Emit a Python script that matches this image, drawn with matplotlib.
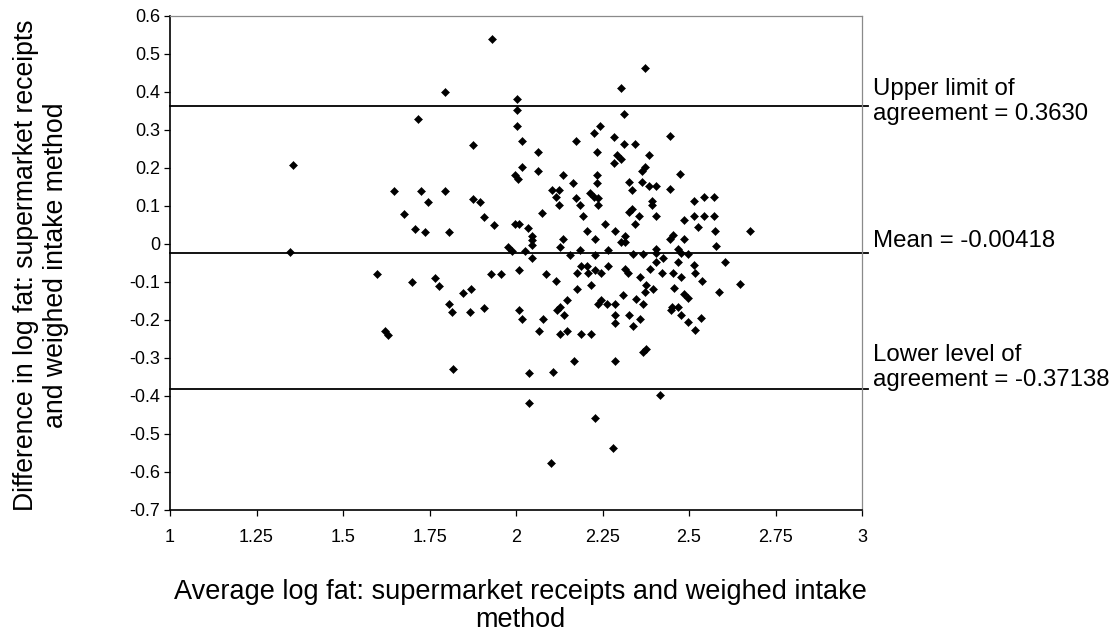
import matplotlib
matplotlib.use("Agg")
import matplotlib.pyplot as plt

plt.rcParams['font.family'] = ['Liberation Sans', 'DejaVu Sans']

# ---- data ----
avg_log_fat = [
    # x < 1.92
    1.795, 1.716, 1.875, 1.356, 1.646, 1.726, 1.795, 1.875, 1.896, 1.747,
    1.676, 1.907, 1.707, 1.737, 1.806, 1.348, 1.598, 1.698, 1.766, 1.777,
    1.847, 1.869, 1.807, 1.908, 1.816, 1.868, 1.621, 1.631, 1.819,
    # central cloud, upper part
    1.932, 2.372, 2.303, 2.004, 2.004, 2.313, 2.004, 2.244, 2.224, 2.016,
    2.174, 2.284, 2.444, 2.313, 2.344, 2.064, 2.234, 2.384, 2.293, 2.303,
    2.284, 2.372, 2.363, 2.016, 2.064, 1.996, 2.005, 2.135, 2.234, 2.473,
    2.166, 2.234, 2.327, 2.364, 2.385, 2.405, 2.336, 2.445, 2.105, 2.123,
    2.115, 2.214, 2.224, 2.174, 2.236, 2.124, 2.185, 2.236, 2.394, 2.394,
    2.515, 2.544, 2.076, 2.327, 2.336, 2.195, 2.355, 2.405, 2.515, 2.544,
    2.486, 1.936, 1.996, 2.008, 2.036, 2.256, 2.345, 2.526, 2.205, 2.286,
    2.576, 2.046, 2.046, 2.046, 2.314, 2.136, 2.227, 2.445, 2.455, 2.486,
    2.304, 2.315, 2.577,
    # central cloud, around and below the mean
    2.126, 1.978, 1.988, 2.026, 2.186, 2.267, 2.406, 2.467, 2.477, 2.157,
    2.227, 2.337, 2.366, 2.406, 2.497, 2.047, 2.425, 2.406, 2.605, 2.467,
    2.267, 2.187, 2.206, 2.515, 2.008, 2.227, 2.314, 2.325, 2.386, 2.516,
    1.928, 1.957, 2.087, 2.177, 2.207, 2.246, 2.421, 2.455, 2.357, 2.476,
    2.117, 2.537, 2.217, 2.376, 2.177, 2.456, 2.586, 2.373, 2.397, 2.308,
    2.486, 2.497, 2.347, 2.147, 2.245, 2.237, 2.264, 2.285, 2.366, 2.127,
    2.008, 2.452, 2.469,
    # lower part
    2.018, 2.118, 2.138, 2.449, 2.477, 2.287, 2.287, 2.327, 2.357, 2.337,
    2.497, 2.535, 2.518, 2.078, 2.067, 2.128, 2.147, 2.188, 2.218, 2.367,
    2.376, 2.168, 2.287, 2.038, 2.108, 2.417, 2.038, 2.229, 2.279, 2.100,
    # right edge
    2.571, 2.571, 2.675, 2.646,
]

diff_log_fat = [
    0.399, 0.329, 0.260, 0.209, 0.140, 0.140, 0.140, 0.119, 0.110, 0.110,
    0.080, 0.071, 0.040, 0.031, 0.031, -0.020, -0.080, -0.100, -0.089, -0.110,
    -0.129, -0.118, -0.159, -0.168, -0.179, -0.179, -0.229, -0.240, -0.329,
    0.539, 0.462, 0.411, 0.381, 0.352, 0.341, 0.311, 0.311, 0.292, 0.270,
    0.271, 0.282, 0.283, 0.262, 0.262, 0.241, 0.242, 0.233, 0.233, 0.223,
    0.212, 0.203, 0.192, 0.202, 0.191, 0.182, 0.171, 0.182, 0.182, 0.183,
    0.161, 0.161, 0.162, 0.162, 0.153, 0.153, 0.143, 0.144, 0.142, 0.142,
    0.124, 0.133, 0.124, 0.122, 0.122, 0.103, 0.103, 0.103, 0.114, 0.103,
    0.114, 0.124, 0.082, 0.084, 0.093, 0.073, 0.074, 0.074, 0.074, 0.074,
    0.064, 0.050, 0.052, 0.052, 0.041, 0.053, 0.053, 0.044, 0.033, 0.034,
    0.034, 0.022, 0.011, -0.003, 0.022, 0.013, 0.013, 0.013, 0.024, 0.013,
    0.004, 0.004, -0.005,
    -0.008, -0.009, -0.018, -0.018, -0.016, -0.016, -0.014, -0.014, -0.025, -0.029,
    -0.029, -0.027, -0.027, -0.025, -0.027, -0.038, -0.036, -0.047, -0.047, -0.047,
    -0.057, -0.057, -0.057, -0.055, -0.068, -0.068, -0.067, -0.077, -0.066, -0.077,
    -0.079, -0.079, -0.079, -0.077, -0.077, -0.077, -0.077, -0.077, -0.087, -0.087,
    -0.098, -0.098, -0.108, -0.108, -0.118, -0.116, -0.126, -0.126, -0.118, -0.135,
    -0.132, -0.143, -0.146, -0.147, -0.147, -0.158, -0.158, -0.158, -0.158, -0.165,
    -0.174, -0.165, -0.165,
    -0.198, -0.175, -0.187, -0.175, -0.187, -0.187, -0.207, -0.187, -0.198, -0.216,
    -0.206, -0.196, -0.226, -0.198, -0.228, -0.238, -0.228, -0.238, -0.238, -0.285,
    -0.276, -0.307, -0.307, -0.339, -0.338, -0.397, -0.419, -0.457, -0.537, -0.577,
    0.123, 0.074, 0.035, -0.105,
]

# reference lines as drawn in the chart and their labels
line_levels = [0.363, -0.024, -0.381]
line_labels = ["Upper limit of\nagreement = 0.3630",
               "Mean = -0.00418",
               "Lower level of\nagreement = -0.37138"]

x_ticks = [1, 1.25, 1.5, 1.75, 2, 2.25, 2.5, 2.75, 3]
x_tick_labels = ["1", "1.25", "1.5", "1.75", "2", "2.25", "2.5", "2.75", "3"]
y_ticks = [0.6, 0.5, 0.4, 0.3, 0.2, 0.1, 0, -0.1, -0.2, -0.3, -0.4, -0.5, -0.6, -0.7]
y_tick_labels = ["0.6", "0.5", "0.4", "0.3", "0.2", "0.1", "0", "-0.1", "-0.2",
                 "-0.3", "-0.4", "-0.5", "-0.6", "-0.7"]

# ---- figure ----
W, H = 1114, 637
fig = plt.figure(figsize=(W / 100, H / 100), dpi=100)
ax = fig.add_axes([170 / W, 1 - 510 / H, 692 / W, 494 / H])

ax.plot(avg_log_fat, diff_log_fat, linestyle='none', marker='D',
        markersize=3.8, markerfacecolor='black', markeredgecolor='black',
        markeredgewidth=0.4, zorder=3)

for lvl in line_levels:
    ax.axhline(lvl, xmin=0, xmax=1.008, color='black', linewidth=1.3,
               zorder=2, clip_on=False)

ax.set_xlim(1, 3)
ax.set_ylim(-0.7, 0.6)
ax.set_xticks(x_ticks)
ax.set_xticklabels(x_tick_labels)
ax.set_yticks(y_ticks)
ax.set_yticklabels(y_tick_labels)
ax.tick_params(axis='both', direction='out', length=4.5, width=0.9,
               labelsize=13, color='black')
ax.tick_params(axis='x', pad=9)
ax.tick_params(axis='y', pad=2.5)

for side in ['left', 'bottom']:
    ax.spines[side].set_color('black')
    ax.spines[side].set_linewidth(1.2)
for side in ['top', 'right']:
    ax.spines[side].set_color('#8a8a8a')
    ax.spines[side].set_linewidth(0.9)

# labels to the right of the lines (offsets in points)
label_offsets = [3, 9, 15]
for lvl, txt, dy in zip(line_levels, line_labels, label_offsets):
    ax.annotate(txt, xy=(1.0, lvl), xycoords=('axes fraction', 'data'),
                xytext=(8, dy), textcoords='offset points',
                ha='left', va='center', fontsize=17.3, linespacing=1.18,
                annotation_clip=False)

fig.text(520 / W, 1 - 579 / H,
         "Average log fat: supermarket receipts and weighed intake\nmethod",
         ha='center', va='top', fontsize=19.5, linespacing=1.12,
         multialignment='center')
fig.text(41 / W, 1 - 265 / H,
         "Difference in log fat: supermarket receipts\nand weighed intake method",
         ha='center', va='center', rotation=90, fontsize=19.2, linespacing=1.22,
         multialignment='center')

fig.savefig("out.png", dpi=100, facecolor='white')
